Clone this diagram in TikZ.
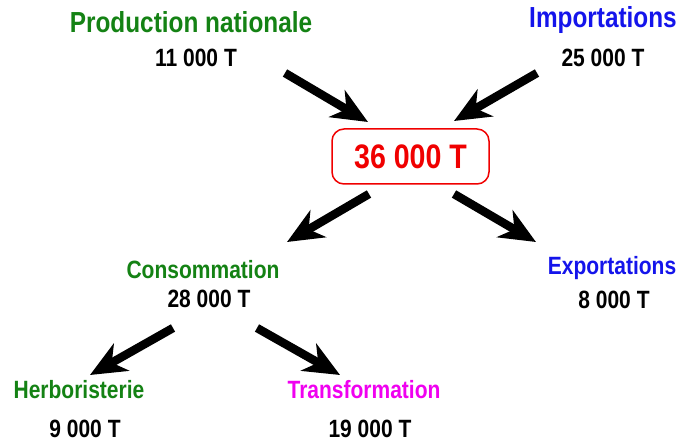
\documentclass[tikz,border=0pt]{standalone}
\usepackage{fontspec}
\setmainfont{Liberation Sans}[FakeStretch=0.84]
\usetikzlibrary{arrows.meta}
\definecolor{tgreen}{RGB}{20,130,20}
\definecolor{tblue}{RGB}{20,20,235}
\definecolor{tmag}{RGB}{240,0,240}
\definecolor{tred}{RGB}{240,0,0}
\begin{document}
\begin{tikzpicture}[x=1pt,y=-1pt,
  lbl/.style={font=\bfseries\fontsize{29}{32}\selectfont, inner sep=0pt},
  sub/.style={font=\bfseries\fontsize{25}{28}\selectfont, inner sep=0pt},
  qty/.style={font=\bfseries\fontsize{25}{28}\selectfont, inner sep=0pt, text=black},
  flow/.style={line width=8.5pt, -{Stealth[length=36pt, width=31pt, inset=11pt]}},
  total/.style={draw=tred, line width=1.5pt, rounded corners=12pt, text=tred,
    font=\bfseries\fontsize{34}{37}\selectfont, minimum width=157pt, minimum height=55pt}]
\useasboundingbox (0,0) rectangle (678,441);
\node[lbl, text=tgreen] (prod) at (191,22) {Production nationale};
\node[qty] (prodq) at (196,58) {11 000 T};
\node[lbl, text=tblue] (imp) at (603,20) {Importations};
\node[qty] (impq) at (603,58) {25 000 T};
\node[total] (tot) at (410.5,156.5) {36 000 T};
\node[sub, text=tgreen] (cons) at (203,270) {Consommation};
\node[qty] (consq) at (209,299) {28 000 T};
\node[sub, text=tblue] (exp) at (612,268) {Exportations};
\node[qty] (expq) at (614,300) {8 000 T};
\node[sub, text=tgreen] (herb) at (79,390) {Herboristerie};
\node[qty] (herbq) at (85,429) {9 000 T};
\node[sub, text=tmag] (trans) at (364,390) {Transformation};
\node[qty] (transq) at (370,429) {19 000 T};
\coordinate (a1s) at (285,73); \coordinate (a1e) at (368,122);
\coordinate (a2s) at (537,73); \coordinate (a2e) at (454,121);
\coordinate (a3s) at (369,194); \coordinate (a3e) at (287,242);
\coordinate (a4s) at (454,194); \coordinate (a4e) at (536,242);
\coordinate (a5s) at (173,328); \coordinate (a5e) at (90,375);
\coordinate (a6s) at (257,328); \coordinate (a6e) at (340,375);
\draw[flow] (a1s) -- (a1e);
\draw[flow] (a2s) -- (a2e);
\draw[flow] (a3s) -- (a3e);
\draw[flow] (a4s) -- (a4e);
\draw[flow] (a5s) -- (a5e);
\draw[flow] (a6s) -- (a6e);
\end{tikzpicture}
\end{document}
